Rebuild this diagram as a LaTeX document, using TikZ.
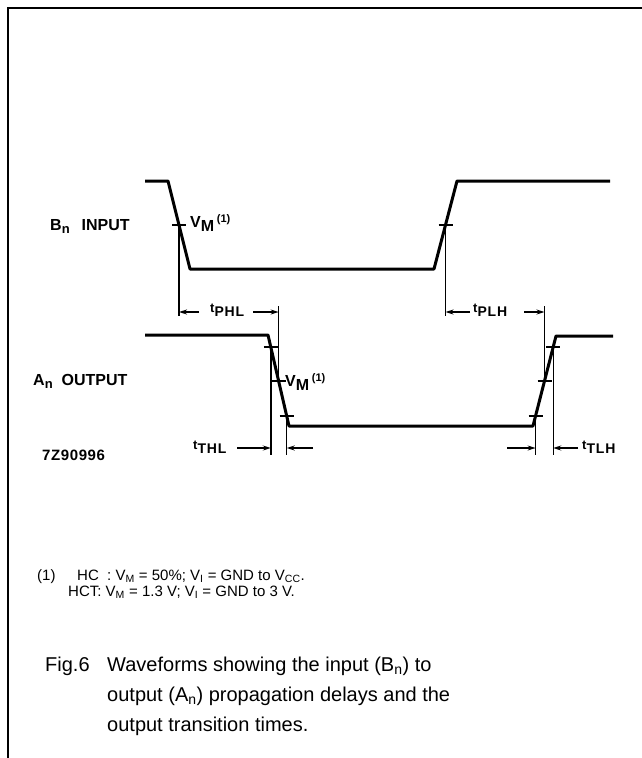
\documentclass[tikz,border=0pt]{standalone}
\usepackage{fontspec}
\setmainfont{Liberation Sans}
\usetikzlibrary{arrows.meta}
\newcommand\tlabel[1]{{\fontsize{13}{13}\selectfont t}\raisebox{-4pt}{\fontsize{14}{14}\selectfont\addfontfeature{LetterSpace=6}#1}}
\newcommand\vmlabel{V\raisebox{-4pt}{M}\,\raisebox{5pt}{\fontsize{11}{11}\selectfont (1)}}
\begin{document}
\begin{tikzpicture}[x=1pt,y=-1pt,
  wave/.style={line width=3pt, line join=round},
  refl/.style={line width=1.4pt},
  tick/.style={line width=1.4pt},
  dimarrow/.style={line width=1.4pt, -{Stealth[length=8pt,width=5pt]}},
  lbl/.style={inner sep=0pt, anchor=base west, font=\fontsize{16}{18}\selectfont\bfseries},
  txt/.style={inner sep=0pt, anchor=base west, font=\fontsize{15}{17}\selectfont},
  captext/.style={inner sep=0pt, anchor=base west, font=\fontsize{20}{24}\selectfont}]
\useasboundingbox (0,0) rectangle (642,758);
% frame
\draw[line width=2pt] (8,758) -- (8,8) -- (642,8);

% B_n input waveform
\coordinate (b0) at (145,181);
\coordinate (b1) at (168,181);
\coordinate (b2) at (190,269);
\coordinate (b3) at (434,269);
\coordinate (b4) at (457,181);
\coordinate (b5) at (610,181);
\draw[wave] (b0) -- (b1) -- (b2) -- (b3) -- (b4) -- (b5);
\coordinate (bm1) at (179,225);
\coordinate (bm2) at (445.5,225);
\coordinate (bv1) at (179,316);
\coordinate (bv2) at (445.5,316);
\draw[tick] ([xshift=-7pt]bm1) -- ([xshift=7pt]bm1);
\draw[tick] ([xshift=-7pt]bm2) -- ([xshift=7pt]bm2);
\draw[refl] (bm1) -- (bv1);
\draw[refl] (bm2) -- (bv2);

% A_n output waveform
\coordinate (a0) at (145,335);
\coordinate (a1) at (268,335);
\coordinate (a2) at (289,426);
\coordinate (a3) at (533,426);
\coordinate (a4) at (556,336);
\coordinate (a5) at (613,336);
\draw[wave] (a0) -- (a1) -- (a2) -- (a3) -- (a4) -- (a5);
% markers falling edge
\coordinate (ft) at (270.8,347);
\coordinate (fm) at (278.6,381);
\coordinate (fb) at (286.7,416);
% markers rising edge
\coordinate (rb) at (535.6,416);
\coordinate (rm) at (544.5,381);
\coordinate (rt) at (553.2,347);
\foreach \p in {ft,fm,fb,rb,rm,rt}
  \draw[tick] ([xshift=-7pt]\p) -- ([xshift=7pt]\p);
% reference lines
\coordinate (fmtop) at (278.6,306);
\coordinate (rmtop) at (544.5,306);
\coordinate (ftbot) at (270.8,455);
\coordinate (fbbot) at (286.7,455);
\coordinate (rbbot) at (535.6,455);
\coordinate (rtbot) at (553.2,455);
\draw[refl] (fmtop) -- (fm);
\draw[refl] (rmtop) -- (rm);
\draw[refl] (ft) -- (ftbot);
\draw[refl] (fb) -- (fbbot);
\draw[refl] (rb) -- (rbbot);
\draw[refl] (rt) -- (rtbot);

% t_PHL
\node[lbl] (tphl) at (210,312) {\tlabel{PHL}};
\coordinate (tphlL) at (179,312);
\coordinate (tphlR) at (278.6,312);
\coordinate (tphlA) at (199,312);
\coordinate (tphlB) at (253,312);
\draw[dimarrow] (tphlA) -- (tphlL);
\draw[dimarrow] (tphlB) -- (tphlR);
% t_PLH
\node[lbl] (tplh) at (473,312) {\tlabel{PLH}};
\coordinate (tplhL) at (445.5,312);
\coordinate (tplhR) at (544.5,312);
\coordinate (tplhA) at (470,312);
\coordinate (tplhB) at (524,312);
\draw[dimarrow] (tplhA) -- (tplhL);
\draw[dimarrow] (tplhB) -- (tplhR);
% t_THL
\node[lbl] (tthl) at (193,449) {\tlabel{THL}};
\coordinate (tthlL) at (270.8,448);
\coordinate (tthlR) at (286.7,448);
\coordinate (tthlA) at (237,448);
\coordinate (tthlB) at (313,448);
\draw[dimarrow] (tthlA) -- (tthlL);
\draw[dimarrow] (tthlB) -- (tthlR);
% t_TLH
\node[lbl] (ttlh) at (582,449) {\tlabel{TLH}};
\coordinate (ttlhL) at (535.6,448);
\coordinate (ttlhR) at (553.2,448);
\coordinate (ttlhA) at (507,448);
\coordinate (ttlhB) at (578,448);
\draw[dimarrow] (ttlhA) -- (ttlhL);
\draw[dimarrow] (ttlhB) -- (ttlhR);

% V_M labels
\node[lbl] (vm1) at (190,227) {\vmlabel};
\node[lbl] (vm2) at (285,386) {\vmlabel};

% signal labels
\node[lbl] (bin) at (50,230) {B\raisebox{-3pt}{\fontsize{13}{13}\selectfont n}\hspace{12pt}INPUT};
\node[lbl] (aout) at (33,385) {A\raisebox{-3pt}{\fontsize{13}{13}\selectfont n}\hspace{9pt}OUTPUT};
\node[lbl, font=\fontsize{15}{17}\selectfont\bfseries\addfontfeature{LetterSpace=4}] (code) at (42,460) {7Z90996};

% footnote
\node[txt] (fn) at (37,580) {(1)};
\node[txt] (fn1) at (77,580) {HC\ \ : V\textsubscript{M} = 50\%; V\textsubscript{I} = GND to V\textsubscript{CC}.};
\node[txt] (fn2) at (68,596) {HCT: V\textsubscript{M} = 1.3 V; V\textsubscript{I} = GND to 3 V.};

% caption
\node[captext] (fig) at (45,671) {Fig.6};
\node[captext] (c1) at (107,671) {Waveforms showing the input (B\textsubscript{n}) to};
\node[captext] (c2) at (107,701) {output (A\textsubscript{n}) propagation delays and the};
\node[captext] (c3) at (107,731) {output transition times.};
\end{tikzpicture}
\end{document}
